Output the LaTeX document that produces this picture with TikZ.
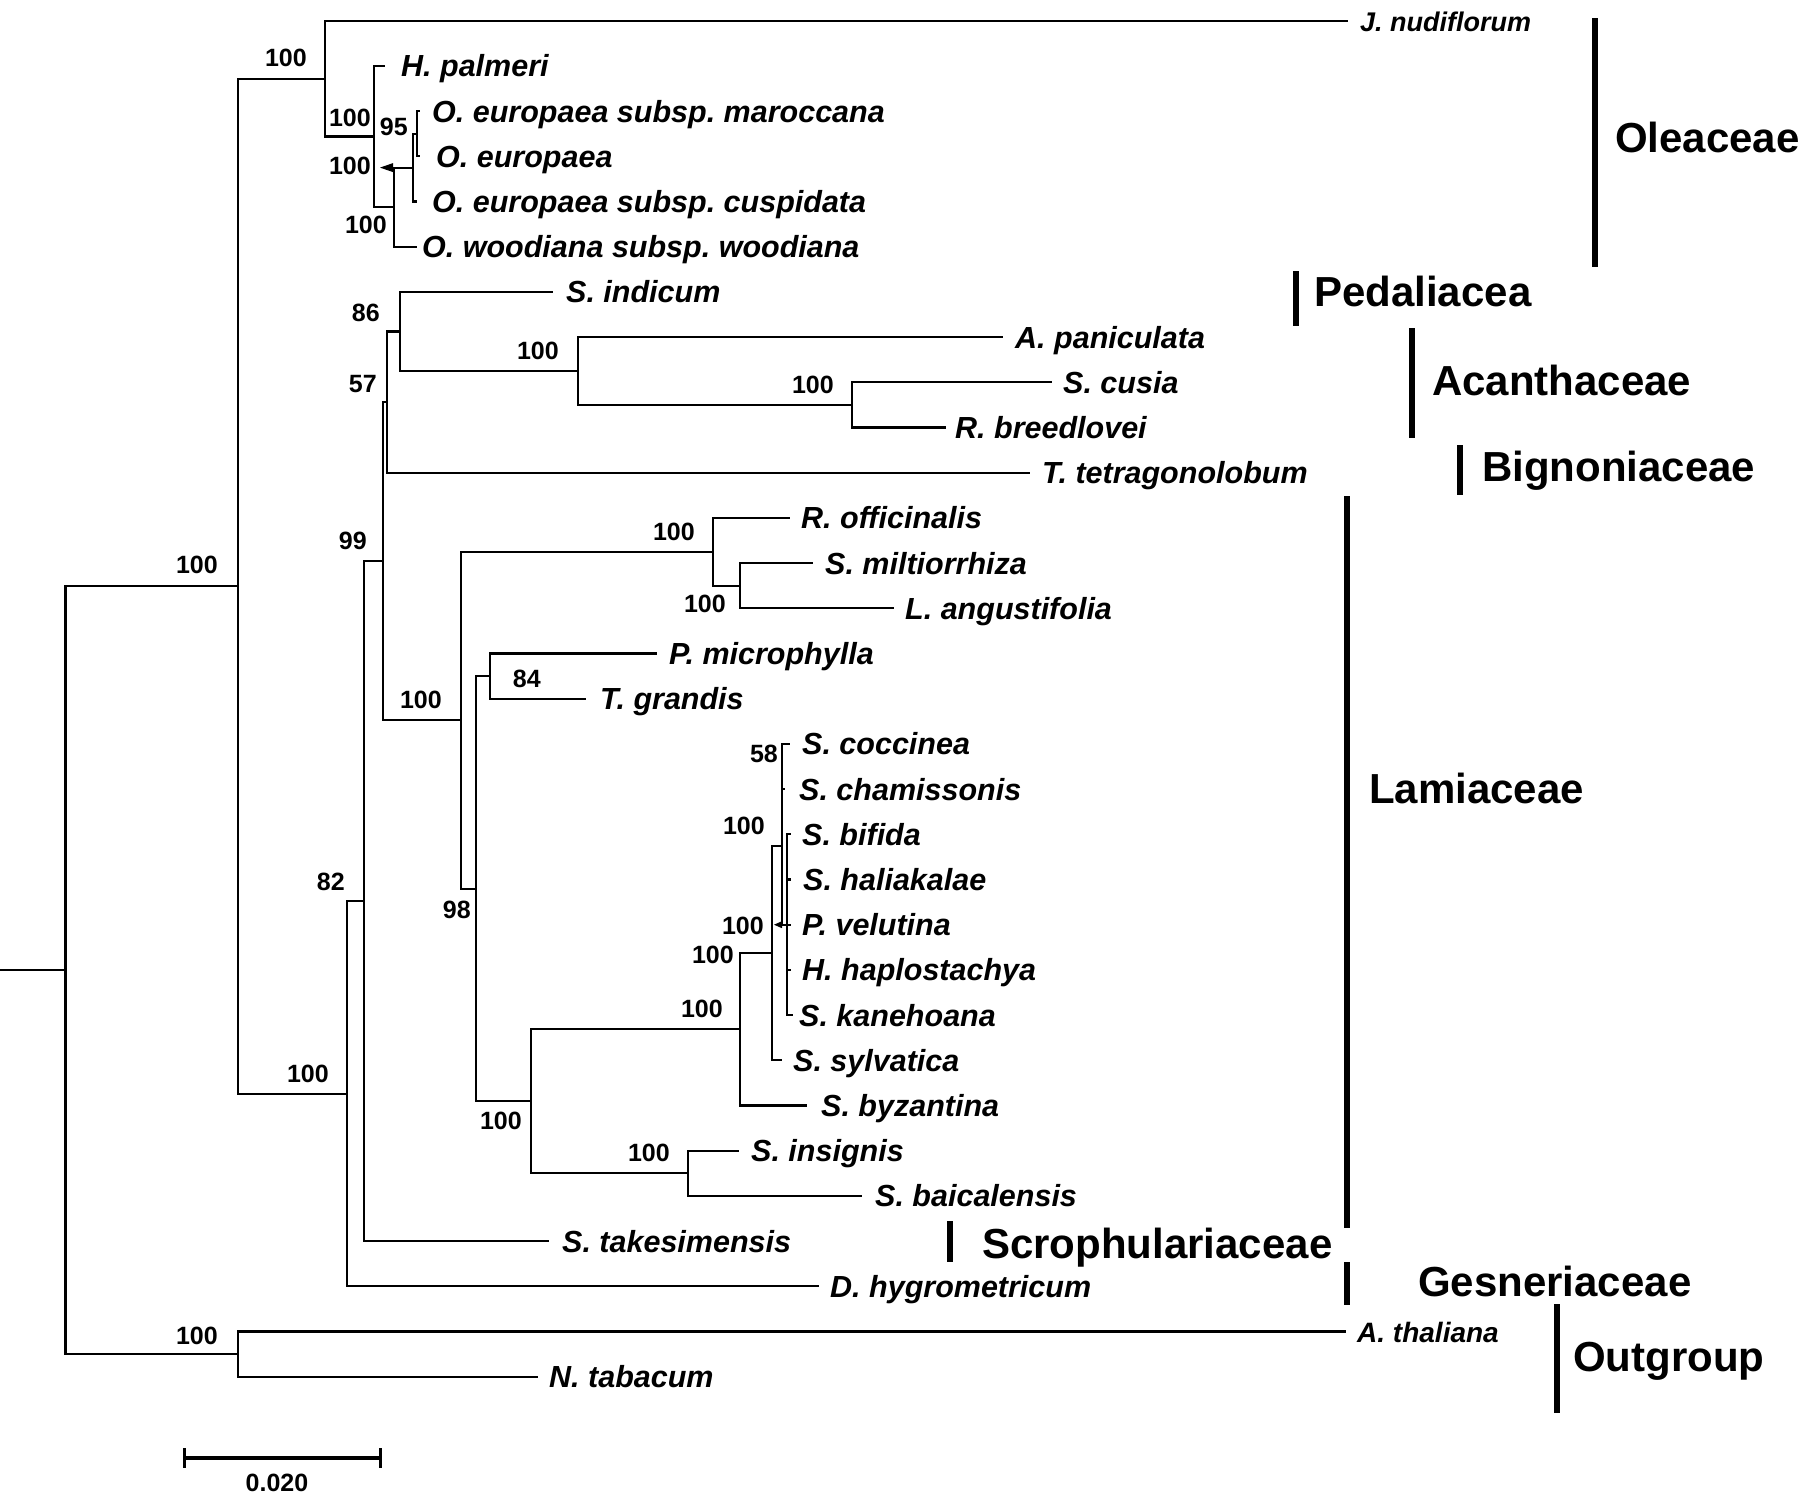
\documentclass[tikz,border=0pt]{standalone}
\usepackage{fontspec}
\setmainfont{Liberation Sans}
\frenchspacing
\begin{document}
\begin{tikzpicture}[x=1pt,y=-1pt,
  br/.style={line width=2.2pt},
  tax/.style={anchor=base west,inner sep=0pt},
  bs/.style={anchor=base east,inner sep=0pt,font=\fontsize{25}{27}\selectfont\bfseries},
  fam/.style={anchor=base west,inner sep=0pt,font=\fontsize{42}{44}\selectfont\bfseries},
  fbar/.style={line width=6pt}]
\useasboundingbox (0,0) rectangle (1802,1500);

% internal nodes
\coordinate (rootl) at (0,970.1);
\coordinate (root) at (65.5,970.1);
\coordinate (In) at (238,586.2);
\coordinate (Og) at (238,1354.1);
\coordinate (Ol) at (325,78.6);
\coordinate (OlB) at (374,136.5);
\coordinate (OlC) at (394,207.2);
\coordinate (OlD) at (413,167.6);
\coordinate (OlE) at (417,133.7);
\coordinate (N1) at (347,1093.7);
\coordinate (N2) at (364,901.1);
\coordinate (N3) at (383,561.2);
\coordinate (N4) at (387,402.1);
\coordinate (PP) at (400,331.5);
\coordinate (PA) at (578,371.0);
\coordinate (CB) at (852,404.9);
\coordinate (L0) at (461,720.2);
\coordinate (L1) at (713,551.8);
\coordinate (L1b) at (740,585.7);
\coordinate (L2) at (476,888.7);
\coordinate (L3) at (490,676.1);
\coordinate (L4) at (531,1101.3);
\coordinate (L5) at (740,1029.2);
\coordinate (L6) at (688,1173.3);
\coordinate (L7) at (772,953.0);
\coordinate (L8) at (782,845.6);
\coordinate (Cc) at (782,766.5);
\coordinate (L9) at (787,924.7);

% internal branches
\draw[br] (rootl) -- (root);
\foreach \p/\c in {root/In,root/Og,In/Ol,In/N1,Ol/OlB,OlB/OlC,OlC/OlD,OlD/OlE,
  N1/N2,N2/N3,N3/N4,N3/L0,N4/PP,PP/PA,PA/CB,L0/L1,L1/L1b,L0/L2,L2/L3,L2/L4,
  L4/L5,L4/L6,L5/L7,L7/L8,L8/Cc,L8/L9}
  {\draw[br] (\p) |- (\c);}

% arrows
\fill (OlC|-OlD) ++(-1,-4.5) -- ++(0,9) -- ++(-13,-4.5) -- cycle;
\fill (L8|-L9) ++(0,-3.5) -- ++(0,7) -- ++(-8,-3.5) -- cycle;

% leaves
\foreach \i/\p/\xe/\xl/\fs/\t in {
0/Ol/1348/1360/27/{J. nudiflorum},
1/OlB/385/401/30.5/{H. palmeri},
2/OlE/420/432/30.5/{O. europaea subsp. maroccana},
3/OlE/420/436/30.5/{O. europaea},
4/OlD/417/432/30.5/{O. europaea subsp. cuspidata},
5/OlC/417/422/30.5/{O. woodiana subsp. woodiana},
6/PP/553/566/30.5/{S. indicum},
7/PA/1003/1015/30.5/{A. paniculata},
8/CB/1052/1063/30.5/{S. cusia},
9/CB/946/955/30.5/{R. breedlovei},
10/N4/1030/1042/30.5/{T. tetragonolobum},
11/L1/790/801/30.5/{R. officinalis},
12/L1b/813/825/30.5/{S. miltiorrhiza},
13/L1b/894/905/30.5/{L. angustifolia},
14/L3/657/669/30.5/{P. microphylla},
15/L3/586/600/30.5/{T. grandis},
16/Cc/790/802/30.5/{S. coccinea},
17/Cc/785/799/30.5/{S. chamissonis},
18/L9/791/802/30.5/{S. bifida},
19/L9/791/803/30.5/{S. haliakalae},
20/L9/791/802/30.5/{P. velutina},
21/L9/791/802/30.5/{H. haplostachya},
22/L9/793/799/30.5/{S. kanehoana},
23/L7/782/793/30.5/{S. sylvatica},
24/L5/807/821/30.5/{S. byzantina},
25/L6/739/751/30.5/{S. insignis},
26/L6/862/875/30.5/{S. baicalensis},
27/N2/549/562/30.5/{S. takesimensis},
28/N1/819/830/30.5/{D. hygrometricum},
29/Og/1346/1357/28/{A. thaliana},
30/Og/538/549/30.5/{N. tabacum}}{
  \pgfmathsetmacro\yy{20.7+45.2*\i}
  \coordinate (e\i) at (\xe,\yy);
  \draw[br] (\p) |- (e\i);
  \node[tax,font=\fontsize{\fs}{\fs}\selectfont\bfseries\itshape] (t\i) at (\xl,\yy+11) {\t};
}

% bootstrap values
\foreach \n/\xr/\yc/\v in {
b1/218/564/100, b2/307/57/100, b3/371/117/100, b4/408/126/95, b5/371/165/100,
b6/387/224/100, b7/380/312/86, b8/377/383/57, b9/559/350/100, b10/834/384/100,
b11/367/540/99, b12/345/881/82, b13/329/1073/100, b14/442/699/100, b15/695/531/100,
b16/726/603/100, b17/541/678/84, b18/471/909/98, b19/522/1120/100, b20/670/1152/100,
b21/723/1008/100, b22/734/954/100, b23/764/925/100, b24/765/825/100, b25/778/753/58,
b26/218/1335/100}{
  \node[bs] (\n) at (\xr,\yc+9) {\v};
}

% family bars and labels
\foreach \n/\bx/\ya/\yb/\lx/\ly/\t in {
ole/1595/18/267/1615/152/Oleaceae,
ped/1296/271/326/1314/306/Pedaliacea,
aca/1412/328/438/1432/395/Acanthaceae,
big/1460/445/495/1482/481/Bignoniaceae,
lam/1347/496/1228/1369/803/Lamiaceae,
scr/950/1221/1262/982/1258/Scrophulariaceae,
ges/1347/1262/1305/1418/1296/Gesneriaceae,
out/1557/1304/1413/1573/1371/Outgroup}{
  \coordinate (\n a) at (\bx,\ya);
  \coordinate (\n b) at (\bx,\yb);
  \draw[fbar] (\n a) -- (\n b);
  \node[fam] (\n t) at (\lx,\ly) {\t};
}

% scale bar
\coordinate (sbL) at (184,1458);
\coordinate (sbR) at (380,1458);
\draw[line width=4pt] (sbL) -- (sbR);
\draw[line width=3pt] (sbL) ++(0,-10) -- ++(0,20);
\draw[line width=3pt] (sbR) ++(0,-10) -- ++(0,20);
\node[anchor=base,inner sep=0pt,font=\fontsize{25}{27}\selectfont\bfseries] (sbt) at (277,1491) {0.020};
\end{tikzpicture}
\end{document}
